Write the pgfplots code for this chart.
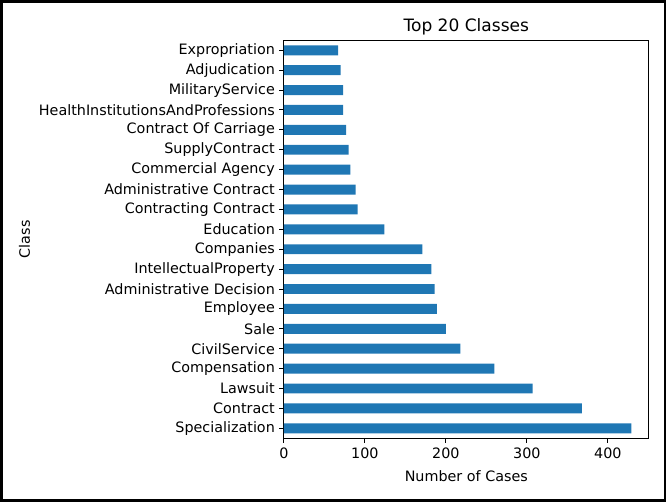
\documentclass[border=0pt]{standalone}
\usepackage{pgfplots}
\pgfplotsset{compat=1.18}
\usepackage{fontspec}
\setmainfont{DejaVu Sans}
\definecolor{mplblue}{HTML}{1F77B4}
\begin{document}
\begin{tikzpicture}
\begin{axis}[
  name=ax,
  scale only axis,
  width=364pt, height=397pt,
  xbar, bar width=0.5,
  xmin=0, xmax=450.5,
  ymin=-0.5, ymax=19.5,
  ytick={0,...,19},
  yticklabels={Specialization,Contract,Lawsuit,Compensation,CivilService,Sale,Employee,Administrative Decision,IntellectualProperty,Companies,Education,Contracting Contract,Administrative Contract,Commercial Agency,SupplyContract,Contract Of Carriage,HealthInstitutionsAndProfessions,MilitaryService,Adjudication,Expropriation},
  xtick={0,100,200,300,400},
  tick align=outside,
  tick pos=left,
  major tick length=4.5pt,
  tick style={black, line width=1pt},
  axis line style={line width=1pt},
  /pgf/number format/assume math mode=true,
  ticklabel style={font=\fontsize{14.3}{17}\selectfont},
  yticklabel style={xshift=-1pt},
  xticklabel style={yshift=-2pt},
  xlabel={Number of Cases},
  ylabel={Class},
  xlabel style={font=\fontsize{14.3}{17}\selectfont, yshift=-5pt},
  ylabel style={font=\fontsize{14.3}{17}\selectfont, yshift=2pt},
  title={Top 20 Classes},
  title style={font=\fontsize{17}{20}\selectfont, yshift=-4pt},
  clip=false,
]
\addplot[fill=mplblue, draw=none] coordinates {
(429,0) (368,1) (307,2) (260,3) (218,4) (200,5) (189,6) (186,7) (182,8) (171,9)
(124,10) (91,11) (88.5,12) (82,13) (80,14) (77,15) (73,16) (73,17) (70,18) (67,19)
};
\end{axis}
\draw[line width=2.5pt] ([shift={(-282pt,-62pt)}]ax.south west) rectangle ([shift={(16pt,39pt)}]ax.north east);
\end{tikzpicture}
\end{document}
